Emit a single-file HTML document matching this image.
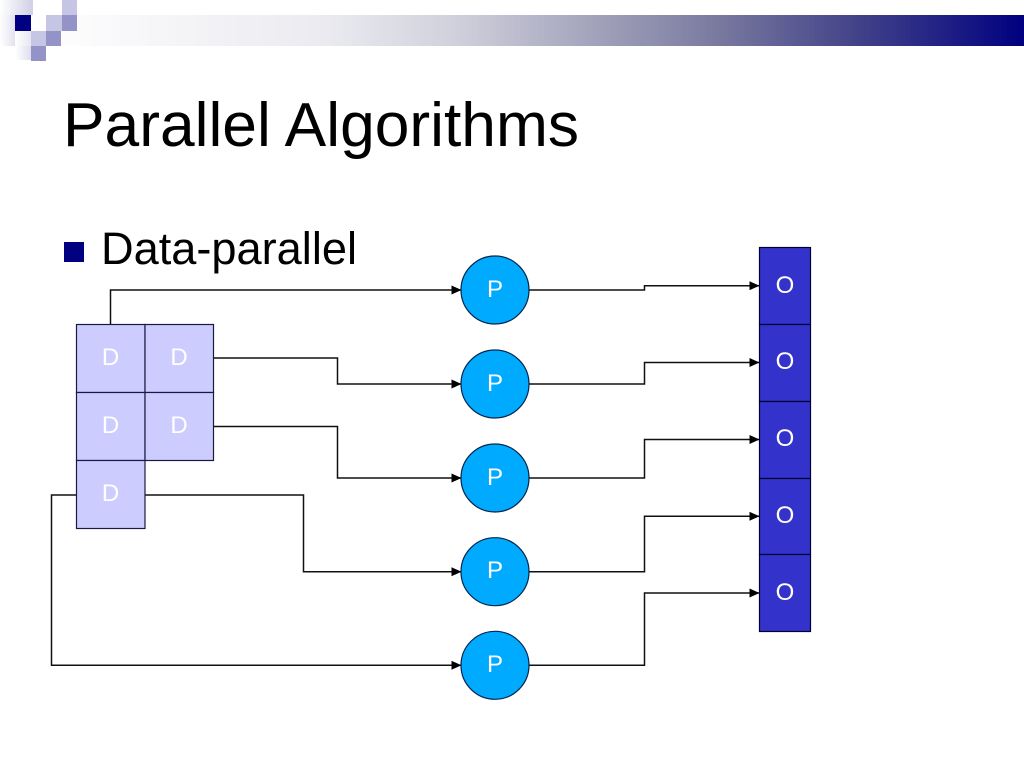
<!DOCTYPE html>
<html>
<head>
<meta charset="utf-8">
<style>
html,body{margin:0;padding:0;background:#fff;}
svg{display:block;}
text{font-family:"Liberation Sans",Arial,sans-serif;}
</style>
</head>
<body>
<svg width="1024" height="768" viewBox="0 0 1024 768" xmlns="http://www.w3.org/2000/svg">
<defs>
<linearGradient id="bar" x1="0" x2="1" y1="0" y2="0">
<stop offset="0" stop-color="#ffffff"/>
<stop offset="0.3" stop-color="#eaeaf0"/>
<stop offset="0.43" stop-color="#d0d0dc"/>
<stop offset="0.56" stop-color="#a5a5bd"/>
<stop offset="0.69" stop-color="#7a7aa0"/>
<stop offset="0.825" stop-color="#45458a"/>
<stop offset="1" stop-color="#000080"/>
</linearGradient>
<linearGradient id="fade" x1="0" x2="1" y1="0" y2="0">
<stop offset="0" stop-color="#ffffff"/>
<stop offset="1" stop-color="#cfcfe6"/>
</linearGradient>
<marker id="a" markerUnits="userSpaceOnUse" markerWidth="10" markerHeight="9" refX="9.500" refY="4.500" orient="auto">
<path d="M0,0 L10,4.500 L0,9 Z" fill="#000"/>
</marker>
</defs>

<rect x="30" y="15" width="994" height="31" fill="url(#bar)"/>
<rect x="0" y="0" width="33" height="15" fill="url(#fade)"/>
<rect x="0" y="15" width="15" height="31" fill="url(#fade)" opacity="0.6"/>
<rect x="15" y="31" width="31" height="15" fill="url(#fade)"/>
<rect x="15" y="46" width="16" height="14" fill="url(#fade)" opacity="0.7"/>
<rect x="15" y="15" width="16" height="16" fill="#000080"/>
<rect x="62" y="0" width="15" height="15" fill="#c6c6e4"/>
<rect x="46" y="15" width="16" height="16" fill="#c6c6e4"/>
<rect x="62" y="15" width="15" height="16" fill="#9393c8"/>
<rect x="31" y="31" width="15" height="15" fill="#c6c6e4"/>
<rect x="46" y="31" width="15" height="15" fill="#9393c8"/>
<rect x="31" y="46" width="15" height="15" fill="#9393c8"/>

<text x="63" y="146" font-size="62" fill="#000" textLength="516" lengthAdjust="spacingAndGlyphs">Parallel Algorithms</text>
<rect x="64" y="242" width="20" height="20" fill="#000080"/>
<text x="101" y="264" font-size="45" fill="#000" textLength="256" lengthAdjust="spacingAndGlyphs">Data-parallel</text>

<g fill="none" stroke="#111" stroke-width="1.5">
<path d="M110.500,324 V290 H461" marker-end="url(#a)"/>
<path d="M214,358 H337.500 V384 H461" marker-end="url(#a)"/>
<path d="M214,426.500 H337.500 V478 H461" marker-end="url(#a)"/>
<path d="M145,495 H303.500 V571.700 H461" marker-end="url(#a)"/>
<path d="M77,495 H51.500 V665.300 H461" marker-end="url(#a)"/>
<path d="M529,290 H644.500 V285.700 H759" marker-end="url(#a)"/>
<path d="M529,384 H644.500 V362.500 H759" marker-end="url(#a)"/>
<path d="M529,478 H644.500 V439.500 H759" marker-end="url(#a)"/>
<path d="M529,571.700 H644.500 V516.300 H759" marker-end="url(#a)"/>
<path d="M529,665.300 H644.500 V593 H759" marker-end="url(#a)"/>
</g>

<g fill="#ccccff" stroke="#1a1a40" stroke-width="1.2">
<rect x="76.500" y="324.500" width="68.500" height="68"/>
<rect x="145" y="324.500" width="68.500" height="68"/>
<rect x="76.500" y="392.500" width="68.500" height="68"/>
<rect x="145" y="392.500" width="68.500" height="68"/>
<rect x="76.500" y="460.500" width="68.500" height="68"/>
</g>
<g fill="#ffffff" font-size="24" text-anchor="middle">
<text x="110.500" y="365">D</text>
<text x="179" y="365">D</text>
<text x="110.500" y="433">D</text>
<text x="179" y="433">D</text>
<text x="110.500" y="501">D</text>
</g>

<g fill="#00aaff" stroke="#00264d" stroke-width="1.2">
<circle cx="495" cy="290" r="34"/>
<circle cx="495" cy="384" r="34"/>
<circle cx="495" cy="478" r="34"/>
<circle cx="495" cy="571.700" r="34"/>
<circle cx="495" cy="665.300" r="34"/>
</g>
<g fill="#ffffff" font-size="24" text-anchor="middle">
<text x="495" y="297">P</text>
<text x="495" y="391">P</text>
<text x="495" y="485">P</text>
<text x="495" y="578">P</text>
<text x="495" y="672">P</text>
</g>

<g fill="#3333cc" stroke="#000033" stroke-width="1.2">
<rect x="759.500" y="247.500" width="51" height="77"/>
<rect x="759.500" y="324.500" width="51" height="77"/>
<rect x="759.500" y="401.500" width="51" height="77"/>
<rect x="759.500" y="478.500" width="51" height="76"/>
<rect x="759.500" y="554.500" width="51" height="77"/>
</g>
<g fill="#ffffff" font-size="24" text-anchor="middle">
<text x="785" y="293">O</text>
<text x="785" y="369">O</text>
<text x="785" y="446">O</text>
<text x="785" y="523">O</text>
<text x="785" y="600">O</text>
</g>
</svg>
</body>
</html>
